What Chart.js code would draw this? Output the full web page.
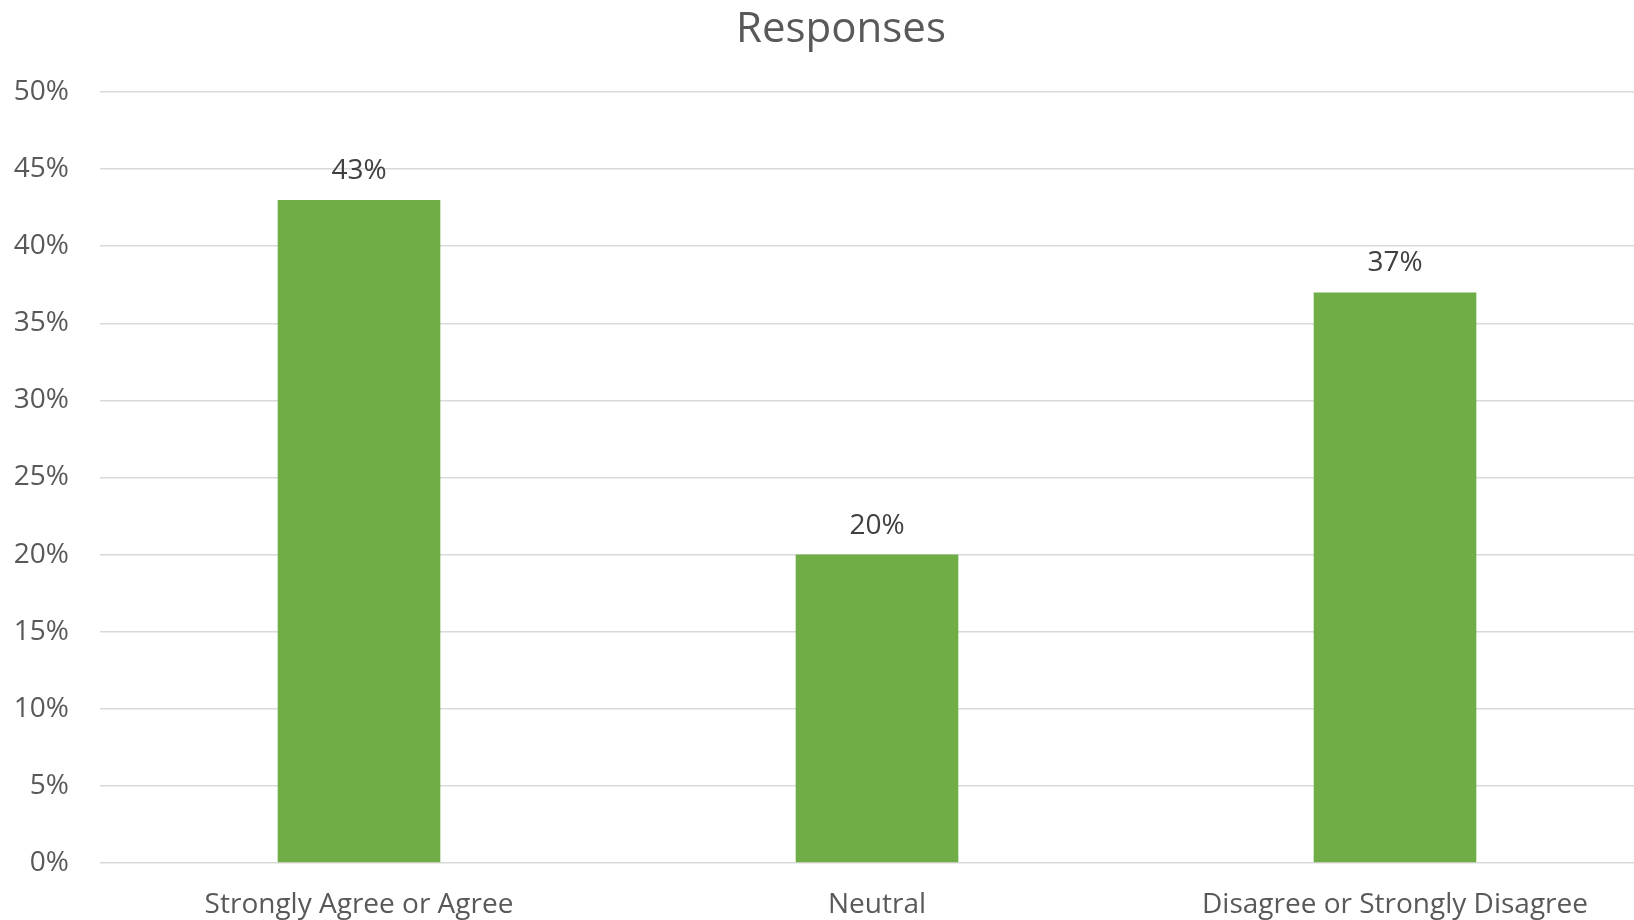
<!DOCTYPE html>
<html>
<head>
<meta charset="utf-8">
<script src="https://cdn.jsdelivr.net/npm/chart.js@4.4.0/dist/chart.umd.min.js"></script>
<style>
  html, body { margin: 0; padding: 0; background: #fff; overflow: hidden; }
  #wrap { width: 1654px; height: 920px; }
</style>
</head>
<body>
<div id="wrap"><canvas id="chart"></canvas></div>
<script>
const categories = ['Strongly Agree or Agree', 'Neutral', 'Disagree or Strongly Disagree'];
const responses = [0.43, 0.20, 0.37];
const yTicks = [0, 0.05, 0.10, 0.15, 0.20, 0.25, 0.30, 0.35, 0.40, 0.45, 0.50];
const chartTitle = 'Responses';

const FONT = "'Open Sans', 'Noto Sans', sans-serif";

// title (sits a bit left of the plot centre, like the original) + value labels
const annotations = {
  id: 'annotations',
  afterDraw(chart) {
    const ctx = chart.ctx;
    ctx.save();
    ctx.font = `42px ${FONT}`;
    ctx.fillStyle = '#595959';
    ctx.textAlign = 'center';
    ctx.textBaseline = 'alphabetic';
    ctx.fillText(chartTitle, 841, 42);

    const meta = chart.getDatasetMeta(0);
    ctx.font = `28px ${FONT}`;
    ctx.fillStyle = '#404040';
    meta.data.forEach((bar, i) => {
      const v = chart.data.datasets[0].data[i];
      ctx.fillText(Math.round(v * 100) + '%', bar.x, bar.y - 21);
    });
    ctx.restore();
  }
};

new Chart(document.getElementById('chart'), {
  type: 'bar',
  data: {
    labels: categories,
    datasets: [{
      label: 'Responses',
      data: responses,
      backgroundColor: '#70AD47',
      borderWidth: 0,
      categoryPercentage: 1,
      barPercentage: 0.314
    }]
  },
  options: {
    responsive: true,
    maintainAspectRatio: false,
    animation: false,
    layout: { padding: { top: 92, left: 0, right: 0, bottom: 0 } },
    plugins: {
      legend: { display: false },
      tooltip: { enabled: false },
      title: { display: false }
    },
    scales: {
      x: {
        afterFit(scale) { scale.height = 57; },
        grid: { display: false, drawTicks: false },
        border: { display: false },
        ticks: {
          color: '#595959',
          font: { family: FONT, size: 28 },
          padding: 25,
          maxRotation: 0,
          autoSkip: false
        }
      },
      y: {
        min: 0,
        max: 0.5,
        afterFit(scale) { scale.width = 100; },
        afterBuildTicks(scale) { scale.ticks = yTicks.map(v => ({ value: v })); },
        grid: { color: '#d9d9d9', lineWidth: 1.5, drawTicks: false },
        border: { display: false },
        ticks: {
          color: '#595959',
          font: { family: FONT, size: 28 },
          padding: 31,
          callback: v => Math.round(v * 100) + '%'
        }
      }
    }
  },
  plugins: [annotations]
});
</script>
</body>
</html>
